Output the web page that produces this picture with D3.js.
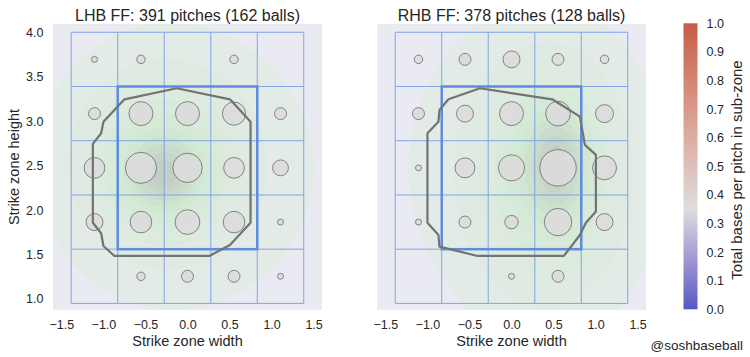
<!DOCTYPE html>
<html>
<head>
<meta charset="utf-8">
<script src="https://cdn.jsdelivr.net/npm/d3@7"></script>
<style>
  html, body { margin: 0; padding: 0; background: #fff; }
  svg { display: block; font-family: "Liberation Sans", Arial, sans-serif; }
</style>
</head>
<body>
<svg id="chart" width="750" height="357"></svg>
<script>
// ---------------- data ----------------
const panelTitles = ["LHB FF: 391 pitches (162 balls)", "RHB FF: 378 pitches (128 balls)"];
const xTicks = [-1.5, -1.0, -0.5, 0.0, 0.5, 1.0, 1.5];
const yTicks = [1.0, 1.5, 2.0, 2.5, 3.0, 3.5, 4.0];
const cbTicks = [0.0, 0.1, 0.2, 0.3, 0.4, 0.5, 0.6, 0.7, 0.8, 0.9, 1.0];
// sub-zone edges (feet)
const xEdges = [-1.383, -0.83, -0.277, 0.277, 0.83, 1.383];
const yEdges = [0.95, 1.56, 2.17, 2.78, 3.39, 4.0];
const zoneX = [-0.83, 0.83];
const zoneY = [1.56, 3.39];
// pitch counts per sub-zone, rows top -> bottom, cols left -> right (0 = none)
const lhbCounts = [
  [1, 2, 0, 2, 0],
  [4, 16, 16, 15, 4],
  [12, 27, 24, 12, 7],
  [8, 13, 17, 13, 1],
  [0, 2, 4, 4, 1]
];
const rhbCounts = [
  [2, 4, 8, 4, 2],
  [4, 8, 16, 17, 9],
  [1, 11, 19, 37, 16],
  [1, 4, 5, 21, 8],
  [0, 0, 1, 4, 0]
];
// called-strike hull outlines [x, z]
const lhbHull = [
  [-0.128, 3.370], [0.505, 3.246], [0.750, 2.994], [0.750, 1.858], [0.505, 1.607],
  [0.259, 1.484], [-0.869, 1.484], [-1.0, 1.596], [-1.027, 1.739], [-1.126, 1.858],
  [-1.126, 2.744], [-1.027, 2.864], [-1.0, 2.994], [-0.75, 3.246]
];
const rhbHull = [
  [-0.374, 3.370], [0.485, 3.246], [0.814, 3.051], [0.873, 2.733], [1.004, 2.621],
  [1.004, 1.985], [0.885, 1.858], [0.814, 1.720], [0.623, 1.484], [-0.402, 1.484],
  [-0.857, 1.589], [-0.869, 1.720], [-1.0, 1.858], [-1.0, 2.864], [-0.869, 2.994],
  [-0.857, 3.125], [-0.750, 3.246]
];
// pitch-location density, approximated as a few kernels: [x, z, sx, sz, weight]
const lhbDensity = [
  [-0.28, 2.38, 0.28, 0.28, 0.9],
  [-0.32, 2.55, 0.60, 0.62, 0.9],
  [-0.05, 2.45, 1.05, 1.00, 0.35]
];
const rhbDensity = [
  [0.55, 2.55, 0.26, 0.42, 0.9],
  [0.45, 2.35, 0.55, 0.85, 0.8],
  [0.20, 2.50, 1.00, 1.10, 0.30]
];
const cbStops = [[0.0, "#4a4fc3"], [0.35, "#dcdcdc"], [1.0, "#c4533d"]];

// ---------------- layout ----------------
const svg = d3.select("#chart");
const panels = [
  {title: panelTitles[0], counts: lhbCounts, hull: lhbHull, dens: lhbDensity, x0: 53, x1: 322, showY: true},
  {title: panelTitles[1], counts: rhbCounts, hull: rhbHull, dens: rhbDensity, x0: 377, x1: 646, showY: false}
];
const yTop = 24, yBot = 310;
const xDomain = [-1.6, 1.6];
const yDomain = [0.876, 4.093];
const rScale = d3.scaleSqrt().domain([0, 30]).range([0, 16.4]);
const fmt = d3.format(".1f");
const blue = "#7299e6";

panels.forEach((p, pi) => {
  const x = d3.scaleLinear().domain(xDomain).range([p.x0, p.x1]);
  const y = d3.scaleLinear().domain(yDomain).range([yBot, yTop]);
  const g = svg.append("g");
  const clipId = "clip" + pi;
  svg.append("clipPath").attr("id", clipId).append("rect")
    .attr("x", p.x0).attr("y", yTop).attr("width", p.x1 - p.x0).attr("height", yBot - yTop);

  g.append("rect").attr("x", p.x0).attr("y", yTop).attr("width", p.x1 - p.x0).attr("height", yBot - yTop)
    .attr("fill", "#eaeaf2");

  // density contours
  const nx = 80, ny = 80;
  const vals = new Array(nx * ny);
  for (let j = 0; j < ny; j++) {
    const zv = yDomain[1] - (j + 0.5) / ny * (yDomain[1] - yDomain[0]);
    for (let i = 0; i < nx; i++) {
      const xv = xDomain[0] + (i + 0.5) / nx * (xDomain[1] - xDomain[0]);
      let s = 0;
      p.dens.forEach(([cx, cz, sx, sz, w]) => {
        s += w * Math.exp(-0.5 * (((xv - cx) / sx) ** 2 + ((zv - cz) / sz) ** 2));
      });
      vals[i + j * nx] = s;
    }
  }
  const vmax = d3.max(vals);
  const levels = [0.06, 0.15, 0.25, 0.35, 0.45, 0.55, 0.65, 0.75, 0.85, 0.93].map(t => t * vmax);
  const contours = d3.contours().size([nx, ny]).thresholds(levels)(vals);
  const sx = (p.x1 - p.x0) / nx, sy = (yBot - yTop) / ny;
  const path = d3.geoPath(d3.geoTransform({
    point: function(px, py) { this.stream.point(p.x0 + px * sx, yTop + py * sy); }
  }));
  const band = d3.scaleLinear().domain([0, 0.5, 1]).range(["#e3ebe6", "#d3ead4", "#c2cfc4"]).interpolate(d3.interpolateLab);
  g.append("g").attr("clip-path", `url(#${clipId})`).selectAll("path").data(contours).join("path")
    .attr("d", path).attr("fill", (d, k) => band(k / (levels.length - 1)));

  // sub-zone grid
  const gg = g.append("g").attr("stroke", blue).attr("stroke-width", 1).attr("opacity", 0.85);
  xEdges.forEach(e => gg.append("line").attr("x1", x(e)).attr("x2", x(e)).attr("y1", y(yEdges[0])).attr("y2", y(yEdges[5])));
  yEdges.forEach(e => gg.append("line").attr("y1", y(e)).attr("y2", y(e)).attr("x1", x(xEdges[0])).attr("x2", x(xEdges[5])));
  // strike zone
  g.append("rect").attr("x", x(zoneX[0])).attr("y", y(zoneY[1]))
    .attr("width", x(zoneX[1]) - x(zoneX[0])).attr("height", y(zoneY[0]) - y(zoneY[1]))
    .attr("fill", "none").attr("stroke", "#5f8be0").attr("stroke-width", 2.5);

  // circles
  const cells = [];
  p.counts.forEach((row, r) => row.forEach((c, ci) => {
    if (c > 0) cells.push({
      cx: (xEdges[ci] + xEdges[ci + 1]) / 2,
      cz: (yEdges[4 - r] + yEdges[5 - r]) / 2,
      n: c
    });
  }));
  g.append("g").selectAll("circle").data(cells).join("circle")
    .attr("cx", d => x(d.cx)).attr("cy", d => y(d.cz)).attr("r", d => rScale(d.n))
    .attr("fill", "#dcdcdc").attr("fill-opacity", 0.9).attr("stroke", "#5a5a5a").attr("stroke-width", 0.7);

  // hull
  g.append("path").attr("d", d3.line().x(d => x(d[0])).y(d => y(d[1])).curve(d3.curveLinearClosed)(p.hull))
    .attr("fill", "none").attr("stroke", "#737373").attr("stroke-width", 2.2).attr("stroke-linejoin", "round");

  // axes
  const xa = g.append("g").attr("transform", `translate(0,${yBot})`)
    .call(d3.axisBottom(x).tickValues(xTicks).tickFormat(fmt).tickSize(0).tickPadding(10));
  xa.select(".domain").remove();
  xa.selectAll("text").attr("font-size", 12.5).attr("fill", "#262626").attr("font-family", "Liberation Sans, Arial, sans-serif");
  if (p.showY) {
    const ya = g.append("g").attr("transform", `translate(${p.x0},0)`)
      .call(d3.axisLeft(y).tickValues(yTicks).tickFormat(fmt).tickSize(0).tickPadding(9.5));
    ya.select(".domain").remove();
    ya.selectAll("text").attr("font-size", 12.5).attr("fill", "#262626").attr("font-family", "Liberation Sans, Arial, sans-serif");
    svg.append("text").attr("transform", `translate(18.5,167) rotate(-90)`).attr("text-anchor", "middle")
      .attr("font-size", 14.5).attr("fill", "#262626").text("Strike zone height");
  }
  svg.append("text").attr("x", (p.x0 + p.x1) / 2).attr("y", 346).attr("text-anchor", "middle")
    .attr("font-size", 14.5).attr("fill", "#262626").text("Strike zone width");
  svg.append("text").attr("x", (p.x0 + p.x1) / 2).attr("y", 21).attr("text-anchor", "middle")
    .attr("font-size", 16).attr("fill", "#262626").text(p.title);
});

// ---------------- colorbar ----------------
const cbX = 683.5, cbW = 14, cbTop = 23.3, cbBot = 309.3;
const cbScale = d3.scaleLinear().domain([0, 1]).range([cbBot, cbTop]);
const cmap = d3.scaleLinear().domain(cbStops.map(d => d[0])).range(cbStops.map(d => d[1])).interpolate(d3.interpolateLab);
const defs = svg.append("defs");
const grad = defs.append("linearGradient").attr("id", "cbgrad").attr("x1", 0).attr("y1", 1).attr("x2", 0).attr("y2", 0);
d3.range(0, 1.0001, 0.05).forEach(t => grad.append("stop").attr("offset", t).attr("stop-color", cmap(t)));
svg.append("rect").attr("x", cbX).attr("y", cbTop).attr("width", cbW).attr("height", cbBot - cbTop)
  .attr("fill", "url(#cbgrad)").attr("opacity", 0.95);
const cba = svg.append("g").attr("transform", `translate(${cbX + cbW},0)`)
  .call(d3.axisRight(cbScale).tickValues(cbTicks).tickFormat(fmt).tickSize(0).tickPadding(9));
cba.select(".domain").remove();
cba.selectAll("text").attr("font-size", 12.5).attr("fill", "#262626").attr("font-family", "Liberation Sans, Arial, sans-serif");
svg.append("text").attr("transform", `translate(741.5,170) rotate(-90)`).attr("text-anchor", "middle")
  .attr("font-size", 15).attr("fill", "#262626").text("Total bases per pitch in sub-zone");
svg.append("text").attr("x", 743).attr("y", 350).attr("text-anchor", "end")
  .attr("font-size", 13.5).attr("fill", "#262626").text("@soshbaseball");
</script>
</body>
</html>
